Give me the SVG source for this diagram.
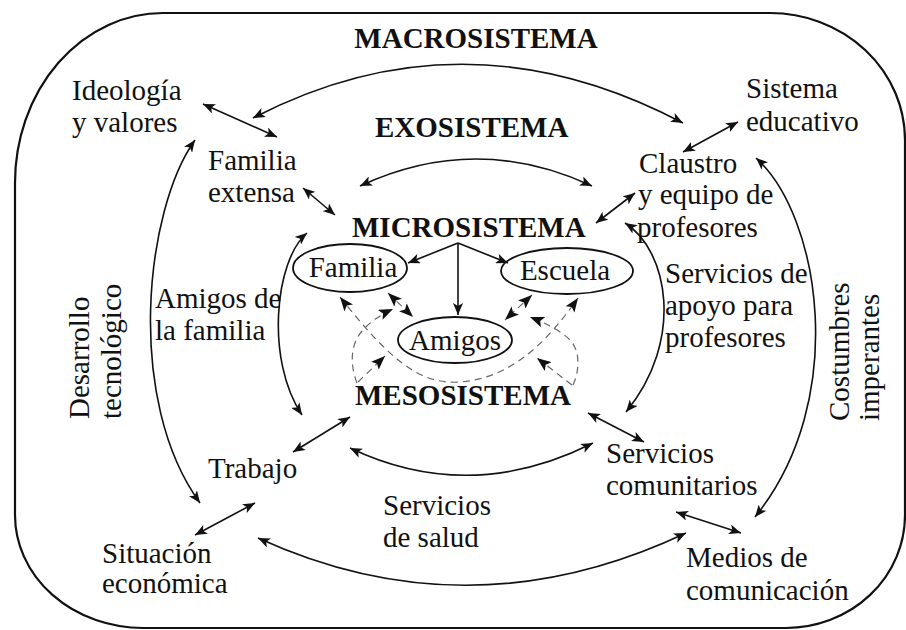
<svg xmlns="http://www.w3.org/2000/svg" width="906" height="630" viewBox="0 0 906 630">
<style>
text{font-size:29px;fill:#111}
.b{font-weight:bold}
.m{text-anchor:middle}
.c{fill:none;stroke:#111;stroke-width:1.6}
.d{fill:none;stroke:#666;stroke-width:1.2;stroke-dasharray:7 5}
.e{fill:none;stroke:#111;stroke-width:1.8}
.a{marker-start:url(#ah);marker-end:url(#ah)}
.t{marker-end:url(#ah)}
.da{marker-start:url(#ahd);marker-end:url(#ahd)}
.dt{marker-end:url(#ahd)}
</style>
<defs>
<marker id="ah" viewBox="0 0 12 10" refX="12" refY="5" markerWidth="12" markerHeight="10" markerUnits="userSpaceOnUse" orient="auto-start-reverse"><path d="M0,0 L12,5 L0,10 L3,5 Z" fill="#111"/></marker>
<marker id="ahd" viewBox="0 0 14 11" refX="14" refY="5.5" markerWidth="14" markerHeight="11" markerUnits="userSpaceOnUse" orient="auto-start-reverse"><path d="M0,0 L14,5.5 L0,11 L3,5.5 Z" fill="#111"/></marker>
</defs>
<rect width="906" height="630" fill="#fff"/>
<path id="border" d="M163,13 L770,13 A135,127 0 0 1 905,140 L905,515 A119,113 0 0 1 786,628 L143,628 A128,113 0 0 1 15,515 L15,183 A148,170 0 0 1 163,13 Z" fill="none" stroke="#111" stroke-width="2.2"/>

<g id="connectors">
<path class="c a" d="M253,118 Q465,8 683,123"/>
<path class="c a" d="M360,186 Q476,132 592,186"/>
<path class="c a" d="M203,104 L277,137"/>
<path class="c a" d="M683,152 L738,122"/>
<path class="c a" d="M303,188 L335,215"/>
<path class="c a" d="M596,223 L635,193"/>
<path class="c a" d="M307,233 C275,260 265,360 302,415"/>
<path class="c a" d="M625,223 C668,250 685,340 626,412"/>
<path class="c a" d="M195,140 C145,210 125,400 200,503"/>
<path class="c a" d="M756,158 C820,215 850,400 755,517"/>
<path class="c a" d="M350,448 Q470,505 593,443"/>
<path class="c a" d="M258,538 Q470,635 686,533"/>
<path class="c a" d="M293,452 L350,417"/>
<path class="c a" d="M195,535 L255,503"/>
<path class="c a" d="M588,413 L644,442"/>
<path class="c a" d="M676,512 L741,533"/>
<path class="c t" d="M458,243 L408,263"/>
<path class="c t" d="M458,243 L458,315"/>
<path class="c t" d="M458,243 L508,263"/>
<path class="d da" d="M340,297 C390,360 420,385 460,382 C510,378 545,345 578,298"/>
<path class="d da" d="M388,293 L413,317"/>
<path class="d da" d="M532,295 L505,320"/>
<path class="d dt" d="M357,383 C350,365 350,345 362,331 C370,322 380,315 393,309"/>
<path class="d dt" d="M358,382 L385,356"/>
<path class="d dt" d="M573,385 C580,370 580,350 570,340 C560,330 545,323 530,317"/>
<path class="d dt" d="M572,385 L537,358"/>
</g>

<g font-family="Liberation Serif, Times New Roman, serif">
<g id="macrosistema"><text class="b m" x="476" y="48">MACROSISTEMA</text></g>
<g id="exosistema"><text class="b" x="375" y="137">EXOSISTEMA</text></g>
<g id="microsistema"><text class="b" x="352" y="237">MICROSISTEMA</text></g>
<g id="mesosistema"><text class="b" x="355" y="405">MESOSISTEMA</text></g>

<g id="ideologia"><text x="72" y="100">Ideología</text><text x="72" y="132">y valores</text></g>
<g id="sistema-educativo"><text x="746" y="98">Sistema</text><text x="746" y="131">educativo</text></g>
<g id="familia-extensa"><text x="208" y="170">Familia</text><text x="208" y="202">extensa</text></g>
<g id="claustro"><text x="639" y="173">Claustro</text><text x="638" y="204">y equipo de</text><text x="637" y="237">profesores</text></g>

<g id="familia"><ellipse class="e" cx="350" cy="268" rx="57" ry="24"/><text class="m" x="353" y="277">Familia</text></g>
<g id="escuela"><ellipse class="e" cx="567" cy="271" rx="66" ry="23"/><text class="m" x="565" y="280">Escuela</text></g>
<g id="amigos"><ellipse class="e" cx="455" cy="340" rx="57" ry="23"/><text class="m" x="455" y="350">Amigos</text></g>

<g id="amigos-familia"><text x="155" y="308">Amigos de</text><text x="155" y="340">la familia</text></g>
<g id="servicios-apoyo"><text x="665" y="283">Servicios de</text><text x="665" y="315">apoyo para</text><text x="665" y="347">profesores</text></g>
<g id="desarrollo"><text transform="translate(89,419) rotate(-90)">Desarrollo</text><text transform="translate(121,419) rotate(-90)">tecnológico</text></g>
<g id="costumbres"><text transform="translate(849,421) rotate(-90)">Costumbres</text><text transform="translate(879,421) rotate(-90)">imperantes</text></g>
<g id="trabajo"><text x="208" y="478">Trabajo</text></g>
<g id="servicios-comunitarios"><text x="606" y="463">Servicios</text><text x="606" y="495">comunitarios</text></g>
<g id="servicios-salud"><text x="383" y="515">Servicios</text><text x="383" y="547">de salud</text></g>
<g id="situacion"><text x="102" y="563">Situación</text><text x="102" y="593">económica</text></g>
<g id="medios"><text x="686" y="567">Medios de</text><text x="686" y="600">comunicación</text></g>
</g>
</svg>
